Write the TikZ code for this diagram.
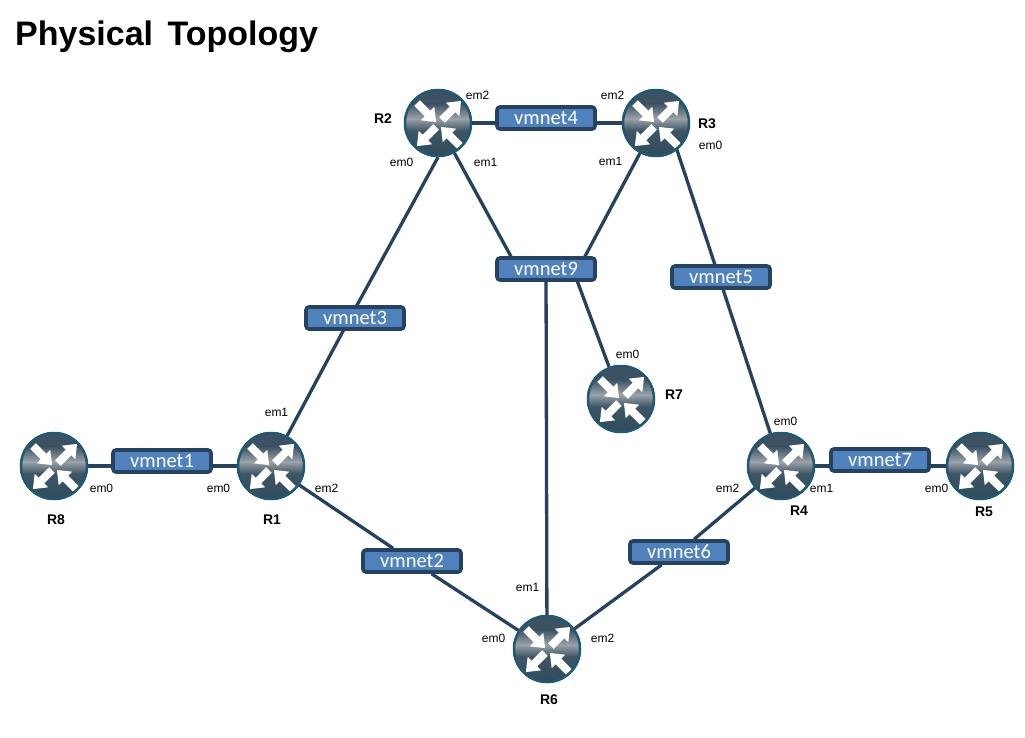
\documentclass[tikz,border=0pt]{standalone}
\usepackage{fontspec}
\setmainfont{Liberation Sans}
\newfontfamily\boxfont{Carlito}
\usetikzlibrary{backgrounds}
\definecolor{linkcol}{HTML}{264261}
\definecolor{boxfill}{HTML}{4F81BD}
\definecolor{ringcol}{HTML}{1F5A72}
\definecolor{rdark}{HTML}{2F4A5A}
\definecolor{rmid}{HTML}{3E5666}
\definecolor{rtop}{HTML}{3C5263}
\definecolor{rlight}{HTML}{9CA3A9}
\tikzset{
  x=1pt,y=-1pt,
  link/.style={draw=linkcol,line width=3.3pt},
  netbox/.style={draw=linkcol,line width=3.6pt,fill=boxfill,rounded corners=3pt,
    minimum width=98pt,minimum height=22pt,inner sep=0pt,text=white,
    font=\boxfont\fontsize{20.5}{22}\selectfont},
  routerbody/.style={circle,minimum size=66pt,inner sep=0pt,draw=ringcol,line width=2.5pt},
  portlabel/.style={inner sep=0pt,font=\fontsize{12}{14}\selectfont,text=black},
  routerlabel/.style={inner sep=0pt,font=\bfseries\fontsize{14}{16}\selectfont,text=black},
  arrowshape/.style={fill=white},
}
\newcommand{\rarrow}[3]{%
  \fill[arrowshape,shift={(#1,#2)},rotate=#3]
    (0,-4) -- (15,-4) -- (15,-9.5) -- (27,0) -- (15,9.5) -- (15,4) -- (0,4) -- cycle;}
\newcommand{\router}[3]{%
  \begin{scope}[shift={(#2,#3)}]
    \begin{scope}
      \clip (0,0) circle (34);
      \fill[rdark] (-34,-34) rectangle (34,34);
      \fill[rtop] (-34,-34) rectangle (34,-19);
      \shade[top color=rmid,bottom color=rdark] (-34,7) rectangle (34,34);
      \shade[top color=rlight,bottom color=rmid] (-34,-4.5) rectangle (34,7.5);
      \shade[top color=rtop,bottom color=rlight] (-34,-19.5) rectangle (34,-4);
    \end{scope}
    \rarrow{-21}{-20}{-45}
    \rarrow{22}{23}{135}
    \rarrow{4}{-3}{45}
    \rarrow{-2}{4}{225}
  \end{scope}
  \node[routerbody] (#1) at (#2,#3) {};}
\begin{document}
\begin{tikzpicture}
\useasboundingbox (0,0) rectangle (1025,737);

\node[anchor=base west,inner sep=0pt,font=\bfseries\fontsize{34}{38}\selectfont,text=black] (title) at (15,45) {Physical\hspace{5pt} Topology};

\router{R1}{271}{466}
\router{R2}{438}{123}
\router{R3}{656}{123}
\router{R4}{781}{466}
\router{R5}{980}{466}
\router{R6}{547}{649}
\router{R7}{621}{399}
\router{R8}{54}{466}

\node[netbox] (v1) at (162,461) {vmnet1};
\node[netbox] (v2) at (412,561) {vmnet2};
\node[netbox] (v3) at (355,318) {vmnet3};
\node[netbox] (v4) at (546,118) {vmnet4};
\node[netbox] (v5) at (721,277) {vmnet5};
\node[netbox] (v6) at (679,552) {vmnet6};
\node[netbox] (v7) at (880,460) {vmnet7};
\node[netbox] (v9) at (546,269) {vmnet9};

\coordinate (v9a) at (514,262);
\coordinate (v9b) at (582,262);
\coordinate (v9c) at (575,275);
\coordinate (v3a) at (350,318);
\coordinate (v5a) at (719,277);
\coordinate (r3a) at (676,147);

\begin{pgfonlayer}{background}
  \fill[white] (0,0) rectangle (1025,737);
  \draw[link] (R8) -- (v1 |- R8);
  \draw[link] (v1 |- R1) -- (R1);
  \draw[link] (R1) -- (v2);
  \draw[link] (v2) -- (R6);
  \draw[link] (R1) -- (v3a);
  \draw[link] (v3a) -- (R2.south);
  \draw[link] (R2) -- (v4 |- R2);
  \draw[link] (v4 |- R3) -- (R3);
  \draw[link] (r3a) -- (v5a);
  \draw[link] (v5a) -- (R4);
  \draw[link] (R4) -- (v6);
  \draw[link] (v6) -- (R6);
  \draw[link] (R4) -- (v7 |- R4);
  \draw[link] (v7 |- R5) -- (R5);
  \draw[link] (R2) -- (v9a);
  \draw[link] (R3) -- (v9b);
  \draw[link] (v9c) -- (R7);
  \draw[link] (v9) -- (R6);
\end{pgfonlayer}

\node[routerlabel] (l2) at (383,119) {R2};
\node[routerlabel] (l3) at (707,124) {R3};
\node[routerlabel] (l8) at (56,520) {R8};
\node[routerlabel] (l1) at (272,520) {R1};
\node[routerlabel] (l7) at (674,395) {R7};
\node[routerlabel] (l4) at (799,511) {R4};
\node[routerlabel] (l5) at (984,512) {R5};
\node[routerlabel] (l6) at (549,700) {R6};

\node[portlabel] (p1) at (477.5,95) {em2};
\node[portlabel] (p2) at (401.5,162) {em0};
\node[portlabel] (p3) at (485.5,162) {em1};
\node[portlabel] (p4) at (612.5,95) {em2};
\node[portlabel] (p5) at (610.5,161) {em1};
\node[portlabel] (p6) at (710.5,145) {em0};
\node[portlabel] (p7) at (276.5,412) {em1};
\node[portlabel] (p8) at (218.5,488) {em0};
\node[portlabel] (p9) at (326.5,488) {em2};
\node[portlabel] (p10) at (101.5,488) {em0};
\node[portlabel] (p11) at (627.5,354) {em0};
\node[portlabel] (p12) at (785.5,421) {em0};
\node[portlabel] (p13) at (727.5,488) {em2};
\node[portlabel] (p14) at (821.5,488) {em1};
\node[portlabel] (p15) at (936.5,488) {em0};
\node[portlabel] (p16) at (527.5,587) {em1};
\node[portlabel] (p17) at (493.5,638) {em0};
\node[portlabel] (p18) at (602.5,638) {em2};
\end{tikzpicture}
\end{document}
